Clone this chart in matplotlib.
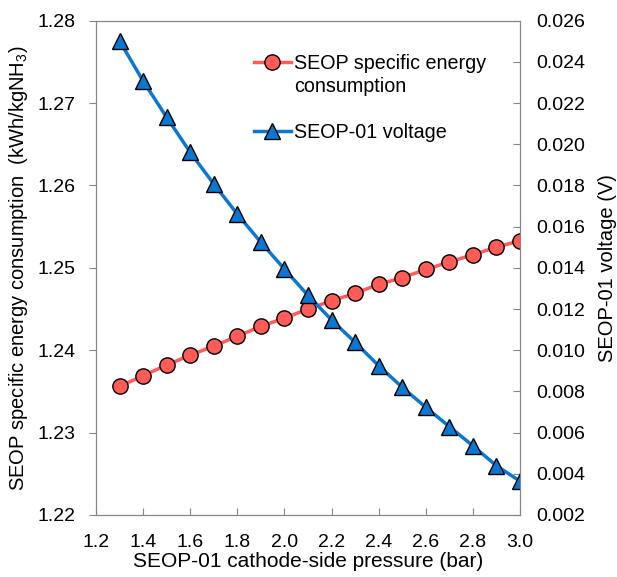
import matplotlib.pyplot as plt
from matplotlib.lines import Line2D

# cathode-side pressure (bar)
pressure = [1.3, 1.4, 1.5, 1.6, 1.7, 1.8, 1.9, 2.0, 2.1, 2.2,
            2.3, 2.4, 2.5, 2.6, 2.7, 2.8, 2.9, 3.0]

# SEOP specific energy consumption (kWh/kgNH3)
energy = [1.2356, 1.2369, 1.2382, 1.2394, 1.2405, 1.2417, 1.2429, 1.2439, 1.2450,
          1.2460, 1.2469, 1.2480, 1.2488, 1.2498, 1.2507, 1.2516, 1.2525, 1.2533]

# SEOP-01 voltage (V)
voltage = [0.02502, 0.02307, 0.02131, 0.01961, 0.01807, 0.01661, 0.01524, 0.01394, 0.01266,
           0.01147, 0.01038, 0.00925, 0.00820, 0.00723, 0.00629, 0.00536, 0.00439, 0.00364]

x_ticks = [1.2, 1.4, 1.6, 1.8, 2.0, 2.2, 2.4, 2.6, 2.8, 3.0]
left_ticks = [1.22, 1.23, 1.24, 1.25, 1.26, 1.27, 1.28]
right_ticks = [0.002, 0.004, 0.006, 0.008, 0.010, 0.012, 0.014,
               0.016, 0.018, 0.020, 0.022, 0.024, 0.026]

plt.rcParams['font.family'] = ['Liberation Sans', 'DejaVu Sans']
plt.rcParams['font.size'] = 14
plt.rcParams['mathtext.fontset'] = 'custom'
plt.rcParams['mathtext.rm'] = 'Liberation Sans'

red = '#FF5B57'
blue = '#0A78D2'
spine_grey = '#868686'

fig = plt.figure(figsize=(6.17, 5.77), dpi=100)
ax = fig.add_axes([0.1556, 0.1075, 0.6872, 0.8566])
ax2 = ax.twinx()

l1, = ax.plot(pressure, energy, color=red, lw=2.5, marker='o', ms=11,
              mfc=red, mec='black', mew=1.0)
l2, = ax2.plot(pressure, voltage, color=blue, lw=2.5, marker='^', ms=12,
               mfc=blue, mec='black', mew=1.0)

ax.set_xlim(1.2, 3.0)
ax.set_ylim(1.22, 1.28)
ax2.set_ylim(0.002, 0.026)
ax.set_xticks(x_ticks)
ax.set_xticklabels([f'{v:.1f}' for v in x_ticks])
ax.set_yticks(left_ticks)
ax.set_yticklabels([f'{v:.2f}' for v in left_ticks])
ax2.set_yticks(right_ticks)
ax2.set_yticklabels([f'{v:.3f}' for v in right_ticks])

ax.tick_params(axis='x', direction='in', length=5, color=spine_grey, pad=14)
ax.tick_params(axis='y', direction='out', length=5, color=spine_grey, pad=10)
ax2.tick_params(axis='y', direction='in', length=5, color=spine_grey, pad=12)

for a in (ax, ax2):
    for s in a.spines.values():
        s.set_color(spine_grey)

ax.set_xlabel('SEOP-01 cathode-side pressure (bar)', fontsize=15)
ax.set_ylabel('SEOP specific energy consumption  (kWh/kgNH$_3$)', fontsize=14.5)
ax2.set_ylabel('SEOP-01 voltage (V)', fontsize=14.5)
ax.xaxis.set_label_coords(0.5, -0.075)
ax.yaxis.set_label_coords(-0.156, 0.5)
ax2.yaxis.set_label_coords(1.184, 0.5)

# legend: handle sits on the first line of the two-line label
blank = Line2D([], [], linestyle='none', marker='none')
handles = [l1, blank, blank, l2]
labels = ['SEOP specific energy', 'consumption', '', 'SEOP-01 voltage']
ax2.legend(handles=handles, labels=labels, loc='upper left',
           bbox_to_anchor=(0.395, 0.924), bbox_transform=fig.transFigure,
           frameon=False, borderpad=0, fontsize=14.2,
           handlelength=1.9, handletextpad=0.15, labelspacing=0.2)

fig.savefig('out.png', dpi=100)
